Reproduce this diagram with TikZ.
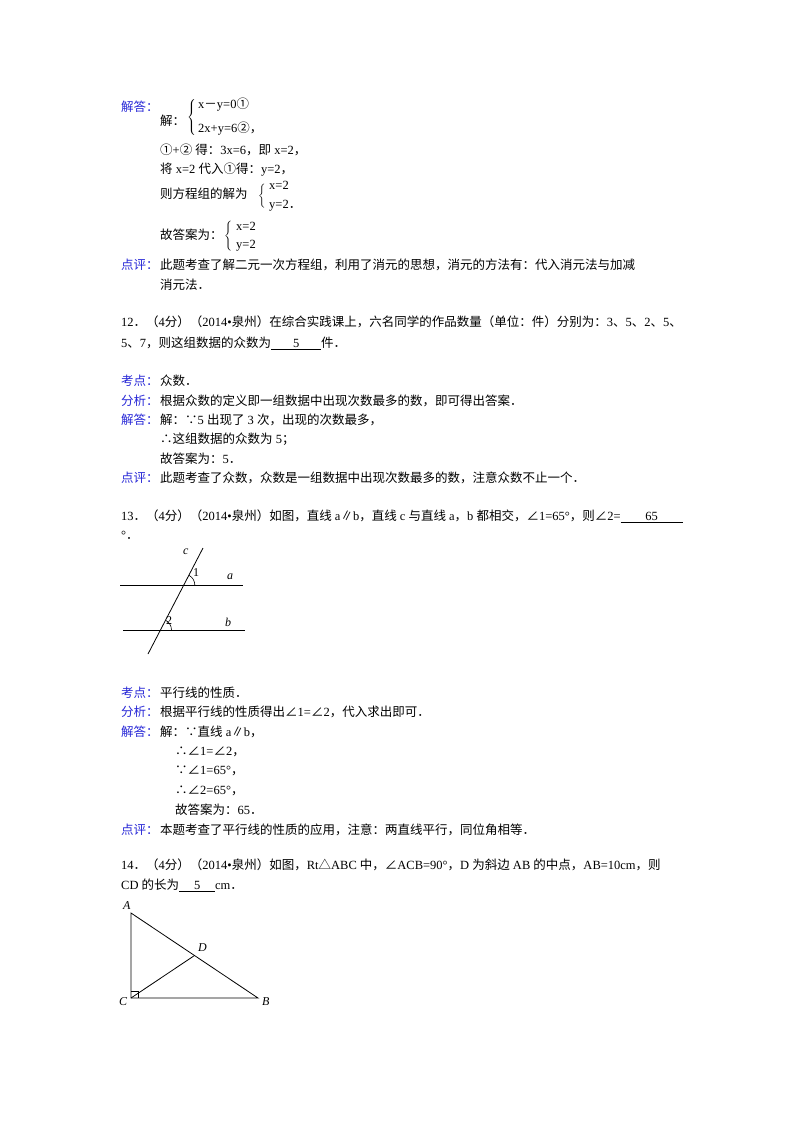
\documentclass[tikz,border=0pt]{standalone}
\usepackage{fontspec}
\usetikzlibrary{calc}
\setmainfont{Liberation Serif}
\newfontfamily\cjk{Noto Sans CJK SC}
\newfontfamily\lat{Liberation Serif}
\XeTeXinterchartokenstate=1
\newXeTeXintercharclass\cjkclass
\newcount\cc
\cc="4E00 \loop\XeTeXcharclass\cc=\cjkclass \advance\cc1 \ifnum\cc<"A000 \repeat
\cc="FF00 \loop\XeTeXcharclass\cc=\cjkclass \advance\cc1 \ifnum\cc<"FFF0 \repeat
\cc="3000 \loop\XeTeXcharclass\cc=\cjkclass \advance\cc1 \ifnum\cc<"3040 \repeat
\cc="2460 \loop\XeTeXcharclass\cc=\cjkclass \advance\cc1 \ifnum\cc<"2474 \repeat
\XeTeXcharclass"2235=\cjkclass \XeTeXcharclass"2234=\cjkclass
\XeTeXcharclass"2220=\cjkclass \XeTeXcharclass"2225=\cjkclass
\XeTeXcharclass"25B3=\cjkclass
\XeTeXinterchartoks 0 \cjkclass = {\cjk}
\XeTeXinterchartoks 4095 \cjkclass = {\cjk}
\XeTeXinterchartoks \cjkclass 0 = {\lat}
\XeTeXinterchartoks \cjkclass 4095 = {\lat}
\definecolor{lab}{RGB}{40,40,215}
\newcommand{\ul}[2]{\underline{\hbox to #1pt{\lat\hfil#2\hfil}}}
\begin{document}
\begin{tikzpicture}[x=1pt,y=-1pt,
  t/.style={anchor=west,inner sep=0pt,font=\fontsize{12.5}{14}\selectfont},
  lb/.style={t,text=lab},
  br/.style={anchor=west,inner sep=0pt},
  ln/.style={line width=0.8pt}]
\useasboundingbox[fill=white] (0,0) rectangle (800,1132);
% Q11 solution
\node[lb] (l1) at (121,107) {解答：};
\node[t] (a1) at (160,121) {解：};
\node[br] (b1) at (187,117) {$\left\{\rule{0pt}{21pt}\right.$};
\node[t] (e1) at (198,105) {x－y=0①};
\node[t] (e2) at (198,129) {2x+y=6②，};
\node[t] (a2) at (160,150) {①+② 得：3x=6，即 x=2，};
\node[t] (a3) at (160,170) {将 x=2 代入①得：y=2，};
\node[t] (a4) at (160,194) {则方程组的解为};
\node[br] (b2) at (258,196) {$\left\{\rule{0pt}{15pt}\right.$};
\node[t] (e3) at (269,185) {x=2};
\node[t] (e4) at (269,206) {y=2．};
\node[t] (a5) at (160,235) {故答案为：};
\node[br] (b3) at (224,236) {$\left\{\rule{0pt}{16pt}\right.$};
\node[t] (e5) at (236,226) {x=2};
\node[t] (e6) at (236,246) {y=2};
\node[lb] (l2) at (121,265) {点评：};
\node[t] (c1) at (160,265) {此题考查了解二元一次方程组，利用了消元的思想，消元的方法有：代入消元法与加减};
\node[t] (c2) at (160,285) {消元法．};
% Q12
\node[t] (q12a) at (121,322) {12．（4分）（2014•泉州）在综合实践课上，六名同学的作品数量（单位：件）分别为：3、5、2、5、};
\node[t] (q12b) at (121,343) {5、7，则这组数据的众数为\ul{50}{5}件．};
\node[lb] (k1) at (121,381) {考点：};
\node[t] at (160,381) {众数．};
\node[lb] (k2) at (121,401) {分析：};
\node[t] at (160,401) {根据众数的定义即一组数据中出现次数最多的数，即可得出答案．};
\node[lb] (k3) at (121,420) {解答：};
\node[t] at (160,420) {解：∵5 出现了 3 次，出现的次数最多，};
\node[t] at (160,439) {∴这组数据的众数为 5；};
\node[t] at (160,459) {故答案为：5．};
\node[lb] (k4) at (121,478) {点评：};
\node[t] at (160,478) {此题考查了众数，众数是一组数据中出现次数最多的数，注意众数不止一个．};
% Q13
\node[t] (q13a) at (121,516) {13．（4分）（2014•泉州）如图，直线 a∥b，直线 c 与直线 a，b 都相交，∠1=65°，则∠2=\ul{62}{65}};
\node[t] (q13b) at (121,535) {°．};
\coordinate (c1s) at (203,548); \coordinate (c1e) at (148,654);
\coordinate (as) at (120,585); \coordinate (ae) at (243,585);
\coordinate (bs) at (123,630); \coordinate (be) at (245,630);
\draw[ln] (c1s) -- (c1e); \draw[ln] (as) -- (ae); \draw[ln] (bs) -- (be);
\draw[line width=0.6pt] (183.8,585) ++(0:11) arc (0:-62:11);
\draw[line width=0.6pt] (160.5,630) ++(0:11) arc (0:-62:11);
\node[t,font=\itshape\fontsize{12}{14}\selectfont] (lc) at (183,552) {c};
\node[t,font=\fontsize{12}{14}\selectfont] (l1n) at (193,573) {1};
\node[t,font=\itshape\fontsize{12}{14}\selectfont] (la) at (227,577) {a};
\node[t,font=\fontsize{12}{14}\selectfont] (l2n) at (166,621) {2};
\node[t,font=\itshape\fontsize{12}{14}\selectfont] (lbb) at (225,622) {b};
\node[lb] at (121,693) {考点：};
\node[t] at (160,693) {平行线的性质．};
\node[lb] at (121,712) {分析：};
\node[t] at (160,712) {根据平行线的性质得出∠1=∠2，代入求出即可．};
\node[lb] at (121,732) {解答：};
\node[t] at (160,732) {解：∵直线 a∥b，};
\node[t] at (175,752) {∴∠1=∠2，};
\node[t] at (175,771) {∵∠1=65°，};
\node[t] at (175,791) {∴∠2=65°，};
\node[t] at (175,810) {故答案为：65．};
\node[lb] at (121,830) {点评：};
\node[t] at (160,830) {本题考查了平行线的性质的应用，注意：两直线平行，同位角相等．};
% Q14
\node[t] (q14a) at (121,865) {14．（4分）（2014•泉州）如图，Rt△ABC 中，∠ACB=90°，D 为斜边 AB 的中点，AB=10cm，则};
\node[t] (q14b) at (121,885) {CD 的长为\ul{36}{5}cm．};
\coordinate (A) at (131,913); \coordinate (C) at (131,998); \coordinate (B) at (258,998);
\coordinate (D) at ($(A)!0.5!(B)$);
\draw[ln] (A) -- (C) -- (B) -- cycle; \draw[ln] (C) -- (D);
\draw[line width=0.6pt] (131,991) -- (138,991) -- (138,998);
\node[t,font=\itshape\fontsize{12}{14}\selectfont] at (123,906) {A};
\node[t,font=\itshape\fontsize{12}{14}\selectfont] at (198,948) {D};
\node[t,font=\itshape\fontsize{12}{14}\selectfont] at (119,1002) {C};
\node[t,font=\itshape\fontsize{12}{14}\selectfont] at (262,1002) {B};
\end{tikzpicture}
\end{document}
